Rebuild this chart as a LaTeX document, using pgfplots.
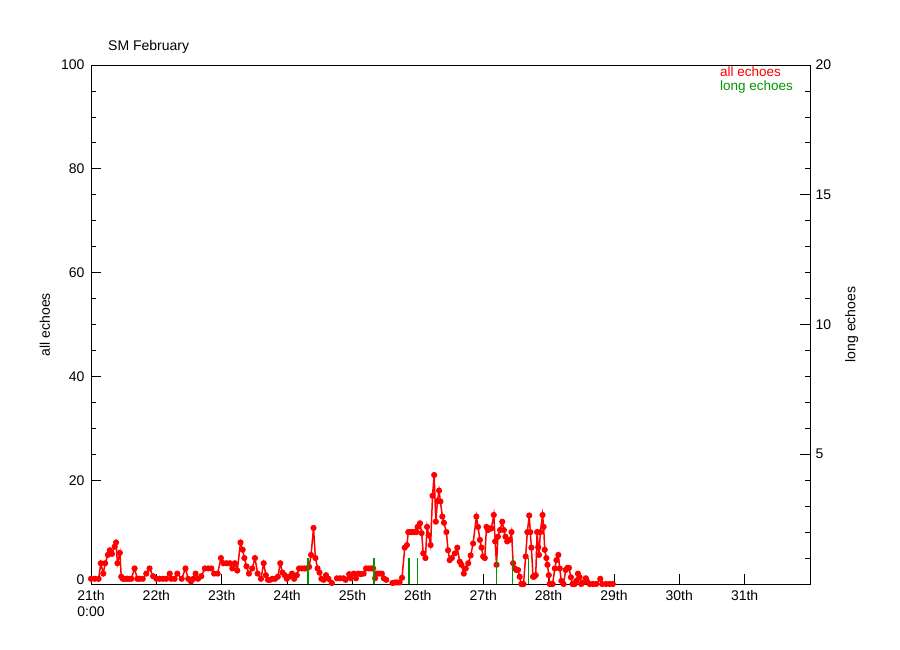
\documentclass[border=0pt]{standalone}
\usepackage{pgfplots}
\pgfplotsset{compat=1.18}
\usepackage{fontspec}
\setmainfont{Liberation Sans}
\definecolor{idlred}{RGB}{255,0,0}
\definecolor{idlgreen}{RGB}{0,150,0}
\begin{document}
\begin{tikzpicture}
\useasboundingbox (0,0) rectangle (900pt,650pt);
\pgfplotsset{
  base/.style={
    at={(91pt,66pt)}, anchor=south west, scale only axis,
    width=719pt, height=519pt,
    xmin=0, xmax=264,
    tick align=inside,
    major tick length=10pt, minor tick length=5pt,
    every tick/.style={black, line width=0.7pt},
    axis line style={line width=0.8pt},
    tick label style={font=\fontsize{14}{15.5}\selectfont},
    label style={font=\fontsize{14}{15}\selectfont},
    /pgf/number format/assume math mode=true,
  }
}
\begin{axis}[base,
  ymin=0, ymax=100,
  xtick={0,24,48,72,96,120,144,168,192,216,240},
  xticklabels={{21th\\0:00},22th,23th,24th,25th,26th,27th,28th,29th,30th,31th},
  xticklabel style={align=center, yshift=-3pt},
  xtick pos=left, xticklabel pos=left,
  ytick={20,40,60,80,100},
  extra y ticks={0},
  extra y tick style={yticklabel style={yshift=4pt}},
  yticklabel style={xshift=-3pt},
  minor y tick num=3,
  ytick pos=left,
  ylabel={all echoes},
  ylabel style={at={(axis description cs:-0.064,0.5)}, anchor=center},
  unbounded coords=jump,
]
\addplot[idlred, line width=1.5pt, mark=*, mark size=2.3pt, mark options={draw=none, fill=idlred}] coordinates {
(0,1) (1.4,1) (2.8,1) (3.6,4) (4.5,2) (5.2,4) (6.2,5.6) (6.9,6.5) (7.7,5.8) (8.7,7.2)
(9.2,8) (9.7,4) (10.6,6) (11.1,1.4) (11.7,1) (12.5,1) (13.3,1) (14.1,1) (14.8,1) (16,3)
(17,1) (17.8,1) (19,1) (20.3,2) (21.5,3) (22.8,1.5) (24,1) (25.2,1) (26.4,1) (27.6,1)
(28.9,2) (29.5,1) (30.7,1) (31.7,2) (33.3,1) (34.7,3) (35.7,1) (36.7,0.5) (37.6,1) (38.4,2)
(39.3,1) (40.5,1.5) (41.8,3) (43,3) (44.2,3) (45.2,2) (46.5,2) (47.7,5) (48.6,4) (49.8,4)
(51,4) (51.9,3) (52.8,4) (53.7,2.6) (54.9,8) (55.7,6.6) (56.3,5) (57.1,3.4) (58,2) (59.2,3)
(60.2,5) (61.2,2) (62.4,1) (63.4,4) (64.2,1.7) (65,0.8) (65.8,0.8) (66.6,1) (67.6,1) (68.6,1.4)
(69.5,4) (70.3,2.2) (71.1,1.7) (71.9,1) (72.8,1.4) (73.8,2) (74.6,1) (75.6,1.7) (76.4,3) (77.4,3)
(78.4,3) (79.3,3) (80.1,3.3) (80.8,5.6) (81.7,10.8) (82.4,5) (83.2,3) (83.9,2.2) (84.6,1) (85.4,0.8)
(86.3,1.7) (87.2,1) (88.4,0.2) (89.3,nan)
(90.3,1.1) (91.5,1.1) (92.7,1.1) (93.5,0.8) (94.8,1.9) (95.4,1.1) (96.5,2) (97.3,1.1) (98.2,2) (99.1,1.9)
(100.1,2) (101,3) (102,3) (102.9,3) (103.6,3) (104.3,1.1) (105.1,2) (105.9,2) (106.8,2) (107.5,1.1)
(108.4,0.8) (109.5,nan)
(110.7,0.2) (111.6,0.3) (112.5,0.3) (113.3,0.3) (114.2,1.2) (115.2,7) (116,7.5) (116.5,10) (117.2,10) (118,10)
(118.8,10) (119.5,10) (119.9,11) (120.8,11.7) (121.4,9.8) (122,5.9) (122.8,5) (123.4,11) (124,9.4) (124.7,7.5)
(125.4,17) (126,21) (126.6,12) (127.2,16) (127.8,18) (128.3,15.9) (129,13) (129.6,11.8) (130.5,10) (131.1,6.5)
(131.7,4.6) (132.5,5) (133.6,5.9) (134.5,7) (135.4,4.3) (136,3.7) (136.9,2) (137.6,3) (138.5,4) (139.4,5.5)
(140.3,7.8) (141.5,13) (142.1,11) (142.8,8.5) (143.4,7) (144,5.3) (144.6,5) (145.2,11) (145.8,10.4) (146.4,10.7)
(147,10.7) (147.9,13.3) (148.4,8.2) (148.9,3.7) (149.4,9.1) (150.2,10.4) (151,12) (151.6,10.4) (152.2,9.1) (152.8,8.2)
(153.8,8.5) (154.4,10) (155,4) (155.6,3) (156.2,2.7) (156.8,2.7) (157.4,1.4) (158,0) (158.8,0) (159.6,5.3)
(160.2,10) (160.9,13.2) (161.3,10) (161.7,7) (162.3,1.4) (162.7,1.4) (163.3,1.7) (163.8,10) (164.2,7.1) (164.5,5.6)
(165,10) (165.8,13.3) (166.2,11) (166.6,6.6) (167.2,5) (167.6,3.7) (168.1,1.7) (168.4,0) (169,0) (169.5,0)
(170.3,3) (170.9,4.6) (171.6,5.6) (172.1,3) (172.7,0.6) (173.5,0) (174.3,2.7) (174.9,3.1) (175.5,3.1) (176.2,1.3)
(176.8,0) (177.6,0) (178.2,0.6) (178.8,2) (179.4,1.3) (180,0) (180.7,0.3) (181.7,1.1) (182.1,0.5) (183.1,0)
(184.3,0) (185.5,0) (187,1) (187.7,0) (189.1,0) (190.4,0) (191.6,0)
};
\end{axis}
\begin{axis}[base,
  ymin=0, ymax=20,
  axis y line*=right, axis x line=none,
  ytick={5,10,15,20},
  yticklabel style={xshift=2pt},
  minor ytick={1,2,3,4,6,7,8,9,11,12,13,14,16,17,18,19},
  ylabel={long echoes},
  ylabel style={at={(axis description cs:1.058,0.5)}, anchor=center},
]
\addplot[ycomb, idlgreen, line width=1.6pt, mark=none] coordinates {
(79.7,1) (103.9,1) (116.8,1) (119.9,1) (148.9,1) (154.8,1) (160.7,1)
};
\end{axis}
\node[anchor=west, inner sep=0pt, font=\fontsize{14}{15}\selectfont] at (108pt,603pt) {SM February};
\node[anchor=west, inner sep=0pt, text=idlred, font=\fontsize{13.5}{14}\selectfont] at (720pt,578pt) {all echoes};
\node[anchor=west, inner sep=0pt, text=idlgreen, font=\fontsize{13.5}{14}\selectfont] at (720pt,563pt) {long echoes};
\end{tikzpicture}
\end{document}
